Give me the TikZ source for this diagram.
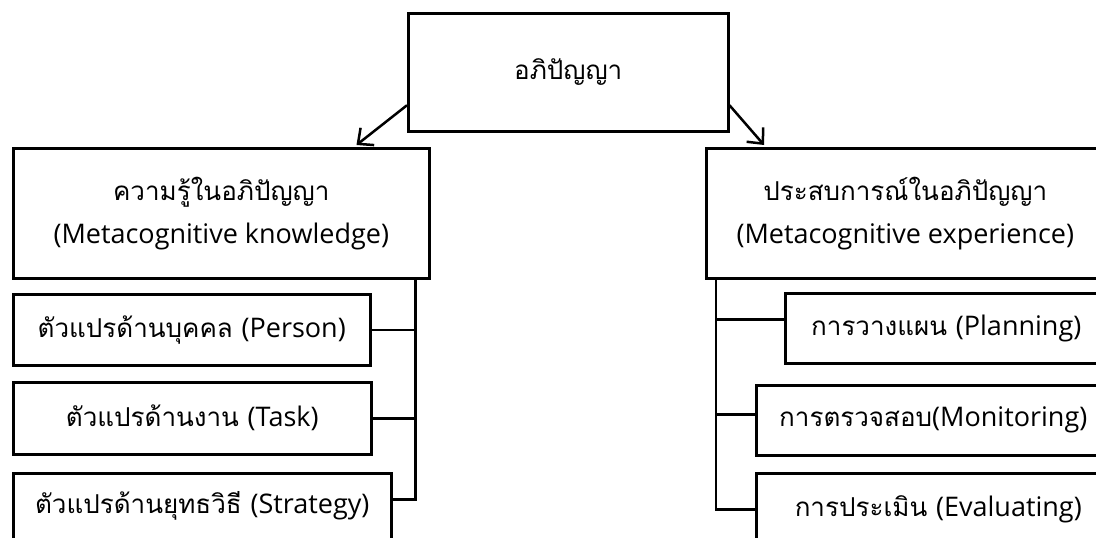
\documentclass[tikz,border=0pt]{standalone}
\usepackage{fontspec}
\setmainfont[Script=Thai]{Loma}
\newfontfamily\latinpart{Open Sans}
\newcommand{\en}[1]{{\latinpart\fontsize{27}{43}\selectfont #1}}
\usetikzlibrary{arrows.meta}
\begin{document}
\begin{tikzpicture}[x=1pt,y=-1pt,
  box/.style={draw=black, line width=2.5pt, fill=white, inner sep=0pt,
    align=center, anchor=north west, font=\fontsize{26}{43}\selectfont},
  link/.style={draw=black, line width=2.5pt},
  arr/.style={link, -{Straight Barb[length=12pt,width=22pt,line width=2.5pt]}}]
\useasboundingbox (0,0) rectangle (1096,538);
\fill[white] (0,0) rectangle (1096,538);
\clip (0,0) rectangle (1096,538);

% root
\node[box, minimum width=320pt, minimum height=118pt] (top) at (407,12) {อภิปัญญา};

% the two main branches
\node[box, minimum width=416pt, minimum height=130pt] (kbox) at (12,147)
  {ความรู้ในอภิปัญญา\\\en{(Metacognitive knowledge)}};
\node[box, minimum width=398pt, minimum height=130pt] (ebox) at (705,147)
  {ประสบการณ์ในอภิปัญญา\\\en{(Metacognitive experience)}};

% knowledge variables
\node[box, minimum width=357pt, minimum height=71pt] (p1) at (12,293) {ตัวแปรด้านบุคคล \en{(Person)}};
\node[box, minimum width=358pt, minimum height=72pt] (t2) at (12,381) {ตัวแปรด้านงาน \en{(Task)}};
\node[box, minimum width=378pt, minimum height=72pt, text depth=14pt] (s3) at (12,472) {ตัวแปรด้านยุทธวิธี \en{(Strategy)}};

% experience steps
\node[box, minimum width=322pt, minimum height=70pt] (r1) at (784,292) {การวางแผน \en{(Planning)}};
\node[box, minimum width=354pt, minimum height=70pt] (r2) at (755,384) {การตรวจสอบ\en{(Monitoring)}};
\node[box, minimum width=364pt, minimum height=72pt] (r3) at (755,472) {การประเมิน \en{(Evaluating)}};

% arrows from the root
\draw[arr] ([yshift=-33pt]top.west) -- ([xshift=-74pt,yshift=2pt]kbox.north east);
\draw[arr] ([yshift=-33pt]top.east) -- ([xshift=59pt,yshift=2pt]ebox.north west);

% left bus
\coordinate (lbus) at ([xshift=-15pt]kbox.south east);
\draw[link] (lbus) |- ([yshift=10pt]s3.east);
\draw[link] (p1.east) -- (p1.east -| lbus);
\draw[link] (t2.east) -- (t2.east -| lbus);

% right bus
\coordinate (rbus) at ([xshift=11pt]ebox.south west);
\draw[link] (rbus) |- (r3.west);
\draw[link] ([yshift=9pt]r1.west) -- ([yshift=9pt]r1.west -| rbus);
\draw[link] ([yshift=6pt]r2.west) -- ([yshift=6pt]r2.west -| rbus);
\end{tikzpicture}
\end{document}
